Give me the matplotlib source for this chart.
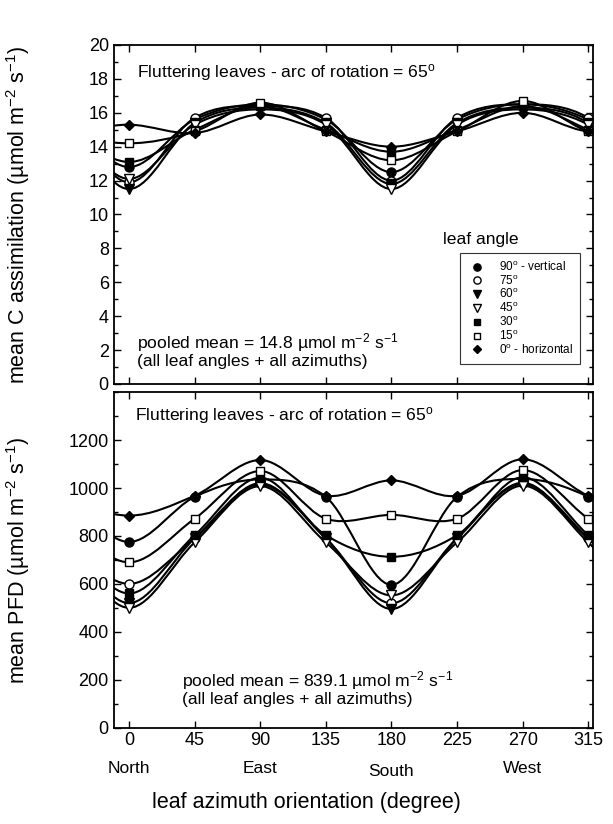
import matplotlib
matplotlib.use("Agg")
import matplotlib.pyplot as plt
import numpy as np
from matplotlib.path import Path
from matplotlib.patches import PathPatch
from matplotlib.lines import Line2D
from matplotlib.ticker import MultipleLocator

plt.rcParams['font.family'] = ['Liberation Sans', 'DejaVu Sans']
plt.rcParams['mathtext.fontset'] = 'custom'
plt.rcParams['mathtext.rm'] = 'Liberation Sans'
plt.rcParams['mathtext.it'] = 'Liberation Sans:italic'

# leaf azimuth (degree)
azimuth = np.array([0, 45, 90, 135, 180, 225, 270, 315])
compass = ['North', 'East', 'South', 'West']
compass_az = [0, 90, 180, 270]

leaf_angle = ['90$^\\mathrm{o}$ - vertical', '75$^\\mathrm{o}$', '60$^\\mathrm{o}$',
              '45$^\\mathrm{o}$', '30$^\\mathrm{o}$', '15$^\\mathrm{o}$',
              '0$^\\mathrm{o}$ - horizontal']

# mean C assimilation (umol m-2 s-1), one row per leaf angle
c_90 = [12.8, 15.6, 16.5, 15.6, 12.5, 15.6, 16.5, 15.6]
c_75 = [11.9, 15.7, 16.4, 15.7, 12.0, 15.7, 16.5, 15.7]
c_60 = [11.5, 15.4, 16.3, 15.4, 11.8, 15.4, 16.3, 15.4]
c_45 = [12.1, 15.3, 16.2, 15.3, 11.5, 15.3, 16.2, 15.3]
c_30 = [13.1, 15.0, 16.4, 15.0, 13.7, 15.0, 16.4, 15.0]
c_15 = [14.2, 14.9, 16.6, 14.9, 13.2, 14.9, 16.7, 14.9]
c_0 = [15.3, 14.8, 15.9, 14.9, 14.0, 14.9, 16.0, 14.9]

# mean PFD (umol m-2 s-1)
pfd_90 = [775, 963, 1036, 963, 596, 963, 1038, 963]
pfd_75 = [600, 790, 1020, 790, 519, 790, 1022, 790]
pfd_60 = [520, 790, 1015, 790, 495, 790, 1017, 790]
pfd_45 = [500, 773, 1008, 773, 552, 773, 1010, 773]
pfd_30 = [560, 803, 1043, 803, 713, 803, 1045, 803]
pfd_15 = [690, 872, 1071, 872, 888, 872, 1075, 872]
pfd_0 = [885, 968, 1117, 968, 1032, 968, 1120, 968]

c_series = [c_90, c_75, c_60, c_45, c_30, c_15, c_0]
pfd_series = [pfd_90, pfd_75, pfd_60, pfd_45, pfd_30, pfd_15, pfd_0]

markers = ['o', 'o', 'v', 'v', 's', 's', 'D']
faces = ['black', 'white', 'black', 'white', 'black', 'white', 'black']
msizes = [6.5, 6.5, 7, 7, 6, 6, 5.5]


def smooth_path(x, y, period=360):
    """ Periodic Catmull-Rom curve through the points, as a bezier path """
    x = np.asarray(x, float)
    y = np.asarray(y, float)
    xs = np.concatenate([x[-2:] - period, x, x[:2] + period])
    ys = np.concatenate([y[-2:], y, y[:2]])
    pts = np.column_stack([xs, ys])
    verts = [pts[1]]
    codes = [Path.MOVETO]
    for i in range(1, len(pts) - 2):
        c1 = pts[i] + (pts[i + 1] - pts[i - 1]) / 6
        c2 = pts[i + 1] - (pts[i + 2] - pts[i]) / 6
        verts += [c1, c2, pts[i + 1]]
        codes += [Path.CURVE4] * 3
    return Path(verts, codes)


def draw_panel(ax, series):
    for vals, m, fc, ms in zip(series, markers, faces, msizes):
        ax.add_patch(PathPatch(smooth_path(azimuth, vals), fill=False,
                               lw=1.5, ec='black', zorder=2))
        ax.plot(azimuth, vals, ls='none', marker=m, mfc=fc, mec='black',
                mew=1.0, ms=ms, zorder=3)
    ax.set_xlim(-10.5, 318.5)
    ax.set_xticks(azimuth)
    ax.tick_params(which='both', direction='in', top=True, right=True,
                   labelsize=13, width=1)
    ax.tick_params(which='major', length=5)
    ax.tick_params(which='minor', length=3)
    for s in ax.spines.values():
        s.set_linewidth(1.3)


fig = plt.figure(figsize=(6.13, 8.24), dpi=100)
ax1 = fig.add_axes([0.1855, 0.534, 0.7825, 0.4114])
ax2 = fig.add_axes([0.1855, 0.117, 0.7825, 0.407])

draw_panel(ax1, c_series)
ax1.set_ylim(0, 20)
ax1.yaxis.set_major_locator(MultipleLocator(2))
ax1.yaxis.set_minor_locator(MultipleLocator(1))
ax1.tick_params(labelbottom=False)
ax1.set_ylabel('mean C assimilation (µmol m$^{-2}$ s$^{-1}$)', fontsize=15.5)
ax1.yaxis.set_label_coords(-0.17, 0.5)
ax1.text(0.048, 0.92, 'Fluttering leaves - arc of rotation = 65$^\\mathrm{o}$',
         transform=ax1.transAxes, fontsize=12.6, va='center')
ax1.text(0.765, 0.425, 'leaf angle', transform=ax1.transAxes, fontsize=12.6,
         ha='center', va='center')
ax1.text(0.048, 0.10, 'pooled mean = 14.8 µmol m$^{-2}$ s$^{-1}$\n(all leaf angles + all azimuths)',
         transform=ax1.transAxes, fontsize=12.6, va='center', linespacing=1.05)

handles = [Line2D([], [], ls='none', marker=m, mfc=fc, mec='black', ms=ms * 0.8)
           for m, fc, ms in zip(markers, faces, msizes)]
leg = ax1.legend(handles, leaf_angle, loc='lower right', bbox_to_anchor=(0.972, 0.06),
                 fontsize=8.5, frameon=True, fancybox=False, handletextpad=0.9,
                 labelspacing=0.0, borderpad=0.6, handlelength=1.8,
                 borderaxespad=0)
leg.get_frame().set_edgecolor('black')
leg.get_frame().set_linewidth(0.8)

draw_panel(ax2, pfd_series)
ax2.set_ylim(0, 1400)
ax2.yaxis.set_major_locator(MultipleLocator(200))
ax2.yaxis.set_minor_locator(MultipleLocator(100))
ax2.set_yticks(np.arange(0, 1201, 200))
ax2.set_ylabel('mean PFD (µmol m$^{-2}$ s$^{-1}$)', fontsize=15.5)
ax2.yaxis.set_label_coords(-0.17, 0.5)
ax2.text(0.045, 0.93, 'Fluttering leaves - arc of rotation = 65$^\\mathrm{o}$',
         transform=ax2.transAxes, fontsize=12.6, va='center')
ax2.text(0.143, 0.118, 'pooled mean = 839.1 µmol m$^{-2}$ s$^{-1}$\n(all leaf angles + all azimuths)',
         transform=ax2.transAxes, fontsize=12.6, va='center', linespacing=1.05)

for az, name in zip(compass_az, compass):
    dy = -0.13 if name == 'South' else -0.121
    ax2.text(az, dy, name, transform=ax2.get_xaxis_transform(), fontsize=12.5,
             ha='center', va='center')

fig.text(0.5, 0.026, 'leaf azimuth orientation (degree)', fontsize=15.5, ha='center',
         va='center')

fig.savefig('out.png', dpi=100)
